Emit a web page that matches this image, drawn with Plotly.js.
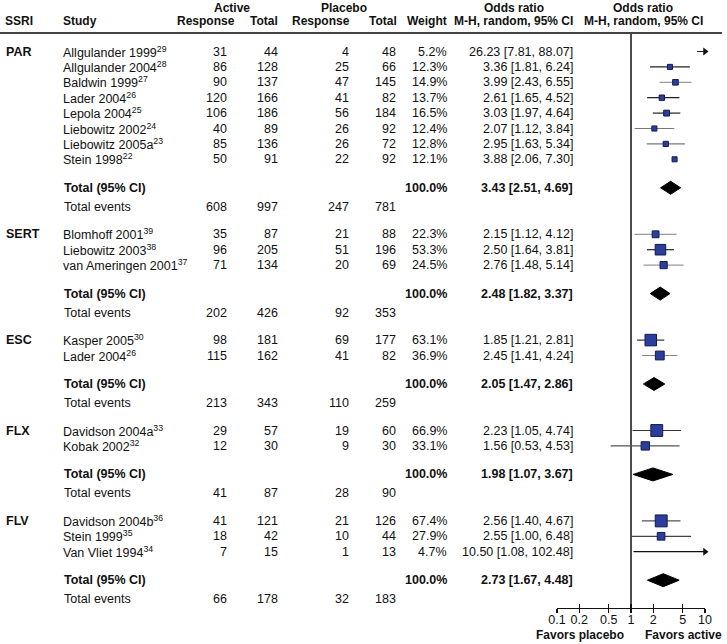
<!DOCTYPE html>
<html>
<head>
<meta charset="utf-8">
<script src="https://cdn.plot.ly/plotly-3.0.1.min.js"></script>
<style>
  body { margin: 0; background: #fff; }
  #grafico { width: 727px; height: 644px; }
</style>
</head>
<body>
<div id="grafico"></div>
<script>
// datos del forest plot
var groups = ["PAR", "SERT", "ESC", "FLX", "FLV"];
var studyGroup = [0,0,0,0,0,0,0,0, 1,1,1, 2,2, 3,3, 4,4,4];
var studies = ["Allgulander 1999", "Allgulander 2004", "Baldwin 1999", "Lader 2004", "Lepola 2004",
  "Liebowitz 2002", "Liebowitz 2005a", "Stein 1998",
  "Blomhoff 2001", "Liebowitz 2003", "van Ameringen 2001",
  "Kasper 2005", "Lader 2004",
  "Davidson 2004a", "Kobak 2002",
  "Davidson 2004b", "Stein 1999", "Van Vliet 1994"];
var refs = [29, 28, 27, 26, 25, 24, 23, 22, 39, 38, 37, 30, 26, 33, 32, 36, 35, 34];
var actResp = [31, 86, 90, 120, 106, 40, 85, 50, 35, 96, 71, 98, 115, 29, 12, 41, 18, 7];
var actTotal = [44, 128, 137, 166, 186, 89, 136, 91, 87, 205, 134, 181, 162, 57, 30, 121, 42, 15];
var plaResp = [4, 25, 47, 41, 56, 26, 26, 22, 21, 51, 20, 69, 41, 19, 9, 21, 10, 1];
var plaTotal = [48, 66, 145, 82, 184, 92, 72, 92, 88, 196, 69, 177, 82, 60, 30, 126, 44, 13];
var weight = [5.2, 12.3, 14.9, 13.7, 16.5, 12.4, 12.8, 12.1, 22.3, 53.3, 24.5, 63.1, 36.9, 66.9, 33.1, 67.4, 27.9, 4.7];
var orEst = [26.23, 3.36, 3.99, 2.61, 3.03, 2.07, 2.95, 3.88, 2.15, 2.50, 2.76, 1.85, 2.45, 2.23, 1.56, 2.56, 2.55, 10.50];
var orLo = [7.81, 1.81, 2.43, 1.65, 1.97, 1.12, 1.63, 2.06, 1.12, 1.64, 1.48, 1.21, 1.41, 1.05, 0.53, 1.40, 1.00, 1.08];
var orHi = [88.07, 6.24, 6.55, 4.52, 4.64, 3.84, 5.34, 7.30, 4.12, 3.81, 5.14, 2.81, 4.24, 4.74, 4.53, 4.67, 6.48, 102.48];

// totales por grupo
var totActResp = [608, 202, 213, 41, 66];
var totActTotal = [997, 426, 343, 87, 178];
var totPlaResp = [247, 92, 110, 28, 32];
var totPlaTotal = [781, 353, 259, 90, 183];
var poolEst = [3.43, 2.48, 2.05, 1.98, 2.73];
var poolLo = [2.51, 1.82, 1.47, 1.07, 1.67];
var poolHi = [4.69, 3.37, 2.86, 3.67, 4.48];

var tickVals = [0.1, 0.2, 0.5, 1, 2, 5, 10];
var tickText = ["0.1", "0.2", "0.5", "1", "2", "5", "10"];

// tono de la linea del IC (Stein 1998 no tiene linea en la figura)
var ciShade = ["#222", "#222", "#999", "#222", "#222", "#777", "#777", null,
  "#999", "#222", "#999", "#333", "#888", "#333", "#555", "#555", "#444", "#111"];

//------------------------------------------------
var W = 727, H = 644;
var FONT = "Liberation Sans, Arial, Helvetica, sans-serif";
var AXIS_Y = 608, RULE_Y = 33;
var X_LEFT = 557, X_RIGHT = 705;
var FS = 12.5, FS_HEAD = 12;

function px(x) { return x / W; }
function fmt(v) { return v.toFixed(2); }

// posiciones de las filas
var FIRST_ROW = 51.5, STEP = 15.4, TOTAL_GAP = 28.5, EVENTS_GAP = 19, GROUP_GAP = 27.5;
var studyY = [], totalY = [], eventsY = [], groupY = [];
var cur = FIRST_ROW;
for (var g = 0; g < groups.length; g++) {
  groupY[g] = cur;
  var last = cur;
  for (var i = 0; i < studies.length; i++) {
    if (studyGroup[i] !== g) continue;
    studyY[i] = cur;
    last = cur;
    cur += STEP;
  }
  totalY[g] = last + TOTAL_GAP;
  eventsY[g] = totalY[g] + EVENTS_GAP;
  cur = eventsY[g] + GROUP_GAP;
}

// columnas (borde derecho o izquierdo en px)
var COL = { ssri: 4, study: 62, aResp: 228, aTot: 279, pResp: 350, pTot: 397, wt: 448, or: 574 };

var ann = [];
function txt(x, y, s, anchor, bold, size, paperY) {
  ann.push({
    x: px(x), y: paperY ? 1 - y / H : y, xref: "paper", yref: paperY ? "paper" : "y",
    text: bold ? "<b>" + s + "</b>" : s,
    showarrow: false, xanchor: anchor, yanchor: "middle",
    font: { family: FONT, size: size || FS, color: "#111" },
    borderpad: 0
  });
}

// encabezado
var H1 = 8, H2 = 21;
txt(232, H1, "Active", "center", true, FS_HEAD);
txt(344, H1, "Placebo", "center", true, FS_HEAD);
txt(514, H1, "Odds ratio", "center", true, FS_HEAD);
txt(643, H1, "Odds ratio", "center", true, FS_HEAD);
txt(COL.ssri, H2, "SSRI", "left", true, FS_HEAD);
txt(COL.study, H2, "Study", "left", true, FS_HEAD);
txt(236, H2, "Response", "right", true, FS_HEAD);
txt(279, H2, "Total", "right", true, FS_HEAD);
txt(351, H2, "Response", "right", true, FS_HEAD);
txt(398, H2, "Total", "right", true, FS_HEAD);
txt(448, H2, "Weight", "right", true, FS_HEAD);
txt(574, H2, "M-H, random, 95% CI", "right", true, FS_HEAD);
txt(643, H2, "M-H, random, 95% CI", "center", true, FS_HEAD);

for (var g = 0; g < groups.length; g++) {
  txt(COL.ssri + 1, groupY[g], groups[g], "left", true);
  txt(COL.study + 1, totalY[g], "Total (95% CI)", "left", true);
  txt(COL.wt, totalY[g], "100.0%", "right", true);
  txt(COL.or, totalY[g], fmt(poolEst[g]) + " [" + fmt(poolLo[g]) + ", " + fmt(poolHi[g]) + "]", "right", true);
  txt(COL.study + 1, eventsY[g], "Total events", "left", false);
  txt(COL.aResp, eventsY[g], String(totActResp[g]), "right");
  txt(COL.aTot, eventsY[g], String(totActTotal[g]), "right");
  txt(COL.pResp, eventsY[g], String(totPlaResp[g]), "right");
  txt(COL.pTot, eventsY[g], String(totPlaTotal[g]), "right");
}

for (var i = 0; i < studies.length; i++) {
  var y = studyY[i];
  txt(COL.study, y, studies[i] + "<sup>" + refs[i] + "</sup>", "left");
  txt(COL.aResp, y, String(actResp[i]), "right");
  txt(COL.aTot, y, String(actTotal[i]), "right");
  txt(COL.pResp, y, String(plaResp[i]), "right");
  txt(COL.pTot, y, String(plaTotal[i]), "right");
  txt(COL.wt, y, weight[i].toFixed(1) + "%", "right");
  txt(COL.or, y, fmt(orEst[i]) + " [" + fmt(orLo[i]) + ", " + fmt(orHi[i]) + "]", "right");
}

txt(625, 635, "Favors placebo", "right", true, FS_HEAD, true);
txt(644, 635, "Favors active", "left", true, FS_HEAD, true);

//------------------------------------------------
var data = [];

// linea vertical en OR = 1
data.push({ x: [1, 1], y: [RULE_Y, AXIS_Y], mode: "lines", line: { color: "#111", width: 1.5 }, hoverinfo: "skip" });

// intervalos de confianza
for (var i = 0; i < studies.length; i++) {
  if (!ciShade[i]) continue;
  data.push({ x: [orLo[i], orHi[i]], y: [studyY[i], studyY[i]], mode: "lines",
    line: { color: ciShade[i], width: 1.2 }, hoverinfo: "skip" });
}

// flechas para IC fuera de rango
var arrX = [], arrY = [];
for (var i = 0; i < studies.length; i++) {
  if (orHi[i] > 10) { arrX.push(10); arrY.push(studyY[i]); }
}
data.push({ x: arrX, y: arrY, mode: "markers", cliponaxis: false, hoverinfo: "skip",
  marker: { symbol: "triangle-right", size: 7, color: "#111", opacity: 1 } });

// cuadrados
data.push({ x: orEst, y: studyY, mode: "markers", hoverinfo: "skip",
  marker: { symbol: "square", size: weight.map(function (w) { return 1.45 * Math.sqrt(w); }),
    color: "#2c3e9c", opacity: 1, line: { color: "#141a4a", width: 1 } } });

// diamantes
var dx = [], dy = [], HALF = 6.5;
for (var g = 0; g < groups.length; g++) {
  dx.push(poolLo[g], poolEst[g], poolHi[g], poolEst[g], poolLo[g], null);
  dy.push(totalY[g], totalY[g] - HALF, totalY[g], totalY[g] + HALF, totalY[g], null);
}
data.push({ x: dx, y: dy, mode: "lines", fill: "toself", fillcolor: "#000",
  line: { color: "#000", width: 1 }, hoverinfo: "skip" });

// traza vacia para el eje de ticks interiores
data.push({ x: [1], y: [-100], xaxis: "x2", mode: "markers", marker: { opacity: 0 }, hoverinfo: "skip" });

var layout = {
  width: W, height: H,
  margin: { l: 0, r: 0, t: 0, b: 0 },
  paper_bgcolor: "#fff", plot_bgcolor: "rgba(0,0,0,0)",
  showlegend: false,
  xaxis: {
    type: "log", range: [-1, 1], domain: [px(X_LEFT), px(X_RIGHT)], anchor: "y",
    tickvals: tickVals, ticktext: tickText, ticks: "outside", ticklen: 4, tickwidth: 1.3, tickcolor: "#111",
    showline: true, linecolor: "#111", linewidth: 1.3, showgrid: false, zeroline: false,
    tickfont: { family: FONT, size: 12.5, color: "#111" }, ticklabelstandoff: -4, fixedrange: true
  },
  xaxis2: {
    type: "log", range: [-1, 1], overlaying: "x", anchor: "y", side: "bottom",
    tickvals: tickVals, ticks: "inside", ticklen: 4, tickwidth: 1.3, tickcolor: "#111",
    showticklabels: false, showline: false, showgrid: false, zeroline: false, fixedrange: true
  },
  yaxis: {
    range: [AXIS_Y, 0], domain: [(H - AXIS_Y) / H, 1], visible: false, fixedrange: true
  },
  shapes: [
    { type: "line", xref: "paper", yref: "y", x0: 0, x1: px(722), y0: RULE_Y, y1: RULE_Y,
      line: { color: "#444", width: 2 } }
  ],
  annotations: ann
};

Plotly.newPlot("grafico", data, layout, { staticPlot: true });
</script>
</body>
</html>
